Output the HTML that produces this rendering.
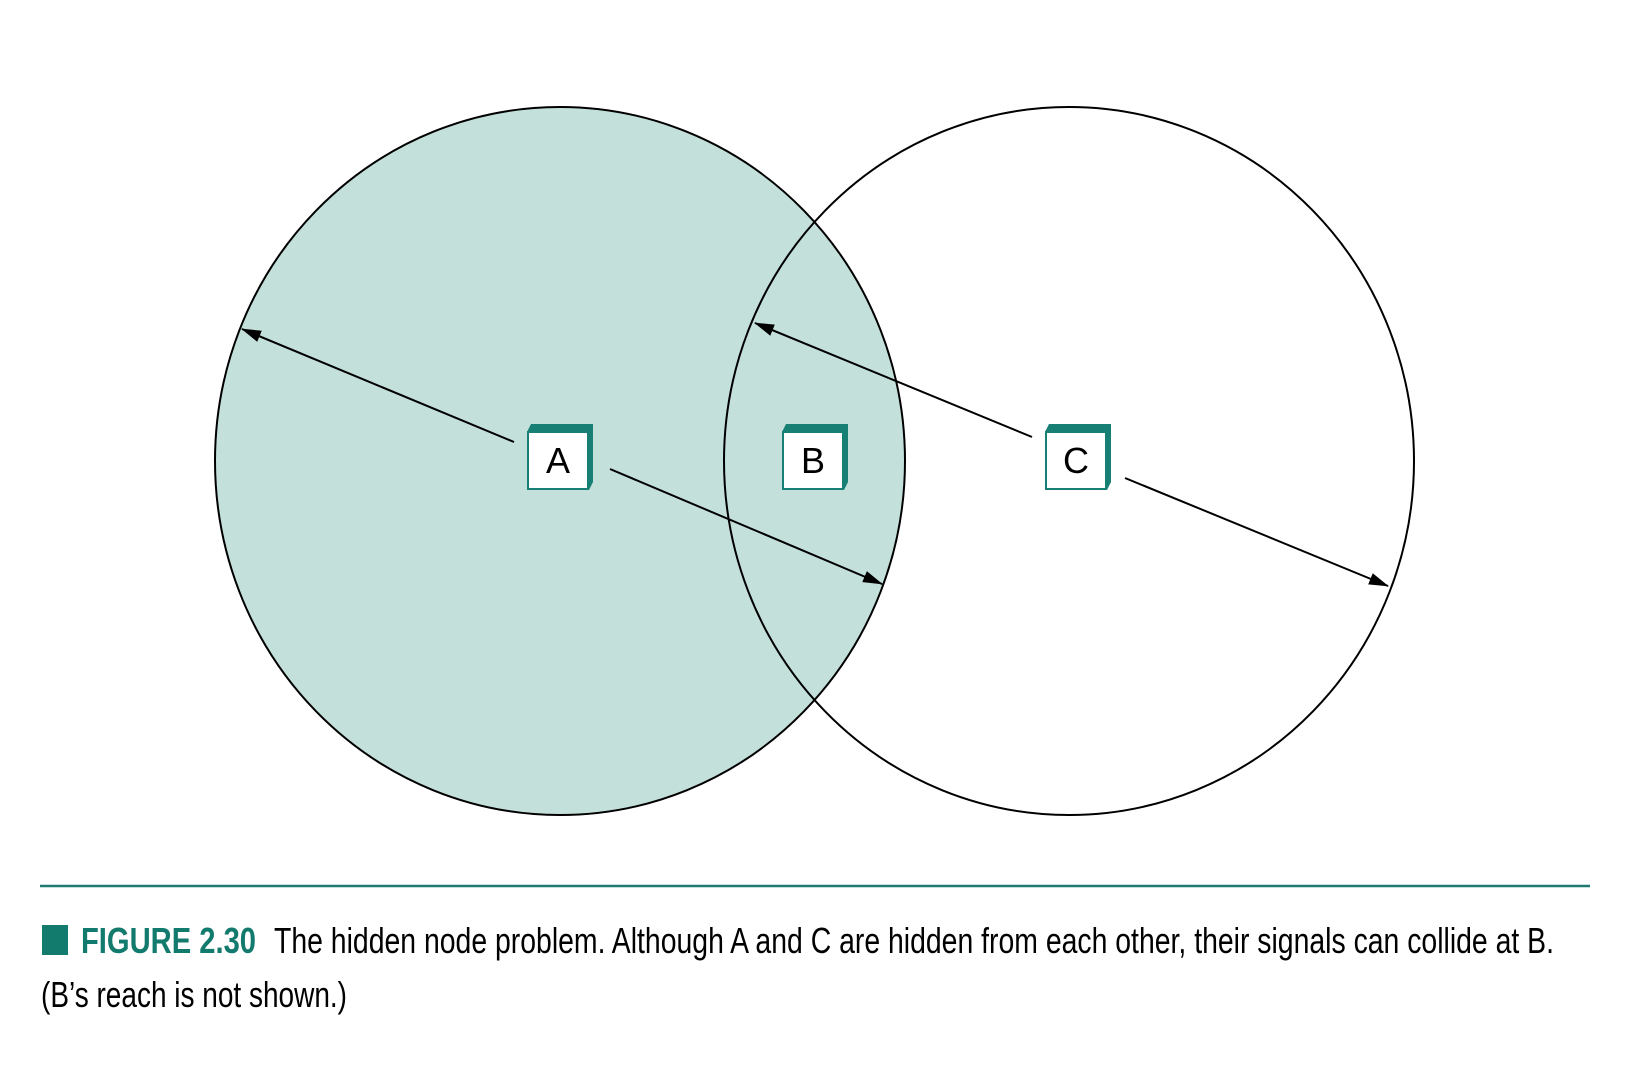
<!DOCTYPE html>
<html><head><meta charset="utf-8"><style>html,body{margin:0;padding:0;background:#fff}svg{display:block}</style></head>
<body>
<svg width="1632" height="1068" viewBox="0 0 1632 1068" xmlns="http://www.w3.org/2000/svg">
<defs>
<marker id="ar" markerWidth="20" markerHeight="12" refX="19" refY="6" orient="auto" markerUnits="userSpaceOnUse">
<path d="M0,0 L20,6 L0,12 Z" fill="#000"/></marker>
</defs>
<ellipse cx="560" cy="461" rx="345" ry="354" fill="#c3e0db" stroke="#000" stroke-width="2"/>
<ellipse cx="1069" cy="461" rx="345" ry="354" fill="none" stroke="#000" stroke-width="2"/>
<g stroke="#000" stroke-width="2" fill="none" marker-end="url(#ar)">
<line x1="514" y1="442" x2="242" y2="329"/>
<line x1="610" y1="469" x2="882" y2="584"/>
<line x1="1032" y1="437" x2="755" y2="323"/>
<line x1="1125" y1="478" x2="1388" y2="586"/>
</g>
<g font-family="Liberation Sans, sans-serif" font-size="36" text-anchor="middle">
<g><path d="M527,432 l4,-8 h62 v58 l-4,8 z" fill="#177f74"/><rect x="528" y="432" width="60" height="57" fill="#fff" stroke="#177f74" stroke-width="2"/><text x="558" y="473">A</text></g>
<g><path d="M782,432 l4,-8 h62 v58 l-4,8 z" fill="#177f74"/><rect x="783" y="432" width="60" height="57" fill="#fff" stroke="#177f74" stroke-width="2"/><text x="813" y="473">B</text></g>
<g><path d="M1045,432 l4,-8 h62 v58 l-4,8 z" fill="#177f74"/><rect x="1046" y="432" width="60" height="57" fill="#fff" stroke="#177f74" stroke-width="2"/><text x="1076" y="473">C</text></g>
</g>
<line x1="40" y1="886" x2="1590" y2="886" stroke="#1f7a72" stroke-width="2.5"/>
<rect x="42" y="925" width="26" height="30" fill="#137a6e"/>
<g font-family="Liberation Sans, sans-serif" font-size="36">
<text x="81" y="953" fill="#137a6e" font-weight="bold" textLength="175" lengthAdjust="spacingAndGlyphs">FIGURE 2.30</text>
<text x="274" y="953" fill="#000" textLength="1280" lengthAdjust="spacingAndGlyphs">The hidden node problem. Although A and C are hidden from each other, their signals can collide at B.</text>
<text x="41" y="1007" fill="#000" textLength="306" lengthAdjust="spacingAndGlyphs">(B’s reach is not shown.)</text>
</g>
</svg>
</body></html>
